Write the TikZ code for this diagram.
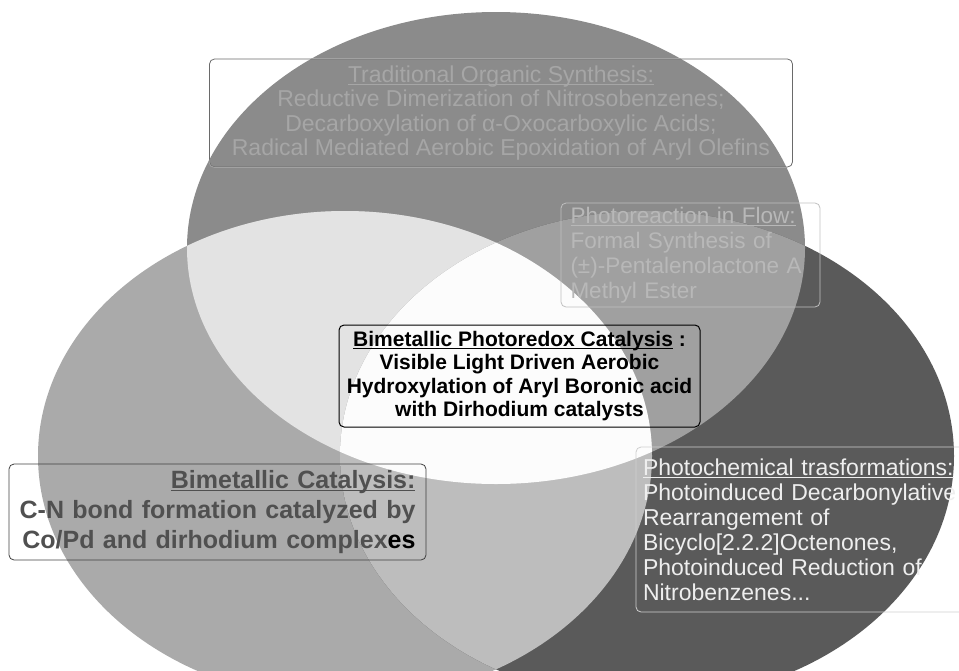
\documentclass[tikz,border=0pt]{standalone}
\usepackage{fontspec}
\setmainfont{Liberation Sans}

\definecolor{topgray}{HTML}{8B8B8B}
\definecolor{leftgray}{HTML}{AAAAAA}
\definecolor{rightgray}{HTML}{5A5A5A}
\definecolor{tlgray}{HTML}{E3E3E3}
\definecolor{trgray}{HTML}{A0A0A0}
\definecolor{lrgray}{HTML}{BDBDBD}
\definecolor{coregray}{HTML}{FCFCFC}
\definecolor{toptext}{HTML}{A6A6A6}
\definecolor{flowtext}{HTML}{B8B8B8}
\definecolor{righttext}{HTML}{EEEEEE}
\definecolor{lefttext}{HTML}{505050}
\definecolor{topline}{HTML}{6A6A6A}
\definecolor{toplinefaint}{HTML}{A2A2A2}
\definecolor{flowline}{HTML}{C0C0C0}
\definecolor{rightline}{HTML}{CFCFCF}
\definecolor{leftline}{HTML}{404040}

% underline set just under the baseline, through the descenders
\newcommand{\ulbox}[1]{\setbox0\hbox{#1}\rlap{\rule[-3pt]{\wd0}{1.3pt}}\box0\relax}

\begin{document}
\begin{tikzpicture}[x=1pt, y=-1pt,
    toplobe/.style={x radius=309, y radius=236},
    sidelobe/.style={x radius=307, y radius=245},
    box/.style={draw, rounded corners=5pt, line width=0.8pt, inner sep=0pt}]
  \useasboundingbox (0,0) rectangle (959,670);
  % three overlapping lobes, top / left / right
  \coordinate (topc) at (496,248);
  \coordinate (leftc) at (345,456);
  \coordinate (rightc) at (647,456);
  \fill[topgray] (topc) ellipse [toplobe];
  \fill[leftgray] (leftc) ellipse [sidelobe];
  \fill[rightgray] (rightc) ellipse [sidelobe];
  % overlaps of two lobes, then the common core
  \begin{scope}
    \clip (topc) ellipse [toplobe];
    \fill[tlgray] (leftc) ellipse [sidelobe];
    \fill[trgray] (rightc) ellipse [sidelobe];
  \end{scope}
  \begin{scope}
    \clip (leftc) ellipse [sidelobe];
    \fill[lrgray] (rightc) ellipse [sidelobe];
    \clip (topc) ellipse [toplobe];
    \fill[coregray] (rightc) ellipse [sidelobe];
  \end{scope}
  % the text boxes
  \node[box, draw=topline, minimum width=583, minimum height=108, align=center,
        text=toptext, font=\fontsize{23}{24.5}\selectfont] (traditional) at (501,113)
    {\ulbox{Traditional Organic Synthesis:}\\
     Reductive Dimerization of Nitrosobenzenes;\\
     Decarboxylation of α-Oxocarboxylic Acids;\\
     Radical Mediated Aerobic Epoxidation of Aryl Olefins};
  \begin{scope}
    \clip (topc) ellipse [toplobe];
    \draw[toplinefaint, rounded corners=5pt, line width=0.8pt]
      (traditional.south west) rectangle (traditional.north east);
  \end{scope}
  \node[box, draw=flowline, minimum width=259, minimum height=104, text width=240, align=left,
        text=flowtext, font=\fontsize{22.5}{25}\selectfont] (flow) at (690.5,255)
    {\ulbox{Photoreaction in Flow:}\\
     Formal Synthesis of\\
     (±)-Pentalenolactone A\\
     Methyl Ester};
  \node[box, draw=black, line width=1pt, minimum width=361, minimum height=102, align=center,
        font=\bfseries\fontsize{21}{23.5}\selectfont] (photoredox) at (519.5,376)
    {\ulbox{Bimetallic Photoredox Catalysis} :\\
     Visible Light Driven Aerobic\\
     Hydroxylation of Aryl Boronic acid\\
     with Dirhodium catalysts};
  \node[box, draw=leftline, minimum width=417, minimum height=96, text width=396, align=right,
        text=lefttext, font=\bfseries\fontsize{25}{30}\selectfont] (bimetallic) at (217.5,512)
    {\ulbox{Bimetallic Catalysis:}\\
     C-N bond formation catalyzed by\\
     Co/Pd and dirhodium complex\textcolor{black}{es}};
  \node[box, draw=rightline, minimum width=345, minimum height=165, text width=331, align=left,
        text=righttext, font=\fontsize{23}{25}\selectfont] (photochem) at (808.5,529.5)
    {\ulbox{Photochemical trasformations:}\\
     Photoinduced Decarbonylative\\
     Rearrangement of\\
     Bicyclo[2.2.2]Octenones,\\
     Photoinduced Reduction of\\
     Nitrobenzenes...};
\end{tikzpicture}
\end{document}
